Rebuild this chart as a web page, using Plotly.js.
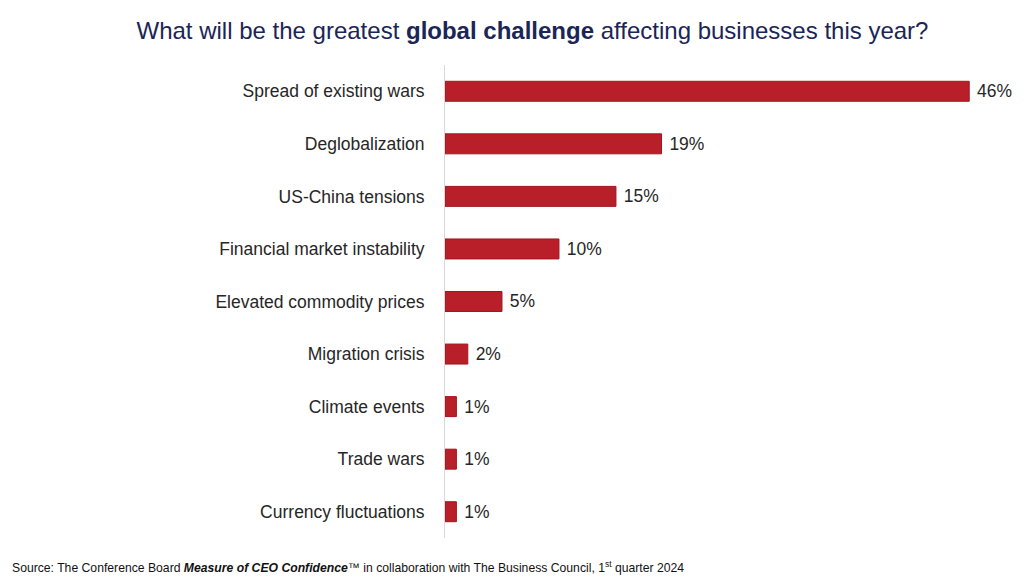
<!DOCTYPE html>
<html><head><meta charset="utf-8">
<script src="https://cdn.plot.ly/plotly-3.0.1.min.js"></script>
<style>html,body{margin:0;padding:0;background:#fff}#chart{width:1024px;height:579px}</style>
</head><body><div id="chart"></div>
<script>
const categories = ["Spread of existing wars","Deglobalization","US-China tensions","Financial market instability","Elevated commodity prices","Migration crisis","Climate events","Trade wars","Currency fluctuations"];
const values = [46,19,15,10,5,2,1,1,1];

const trace = {
  type: 'bar', orientation: 'h',
  y: categories, x: values,
  marker: {color: '#B81F29', line: {color: '#A0161F', width: 1}},
  width: 0.38,
  text: values.map(v => ' ' + v + '%'),
  textposition: 'outside', cliponaxis: false,
  textfont: {family: 'Liberation Sans, Arial, sans-serif', size: 17.5, color: '#262626'},
  hoverinfo: 'skip'
};
const layout = {
  width: 1024, height: 579,
  margin: {l: 445, r: 32, t: 65, b: 41},
  paper_bgcolor: '#fff', plot_bgcolor: '#fff',
  showlegend: false,
  title: {text: 'What will be the greatest <b>global challenge</b> affecting businesses this year?',
    font: {family: 'Liberation Sans, Arial, sans-serif', size: 24, color: '#1B2556'},
    x: 0.52, xanchor: 'center', y: 0.948, yanchor: 'middle'},
  xaxis: {range: [0, 48], visible: false, fixedrange: true},
  yaxis: {autorange: 'reversed', showline: true, linecolor: '#D9D9D9', linewidth: 1,
    showgrid: false, zeroline: false, ticks: '', ticklabelstandoff: 16,
    tickfont: {family: 'Liberation Sans, Arial, sans-serif', size: 17.5, color: '#262626'}},
  annotations: [{
    xref: 'paper', yref: 'paper', x: (10-445)/547, y: -0.061, xanchor: 'left', yanchor: 'middle',
    showarrow: false, align: 'left',
    text: 'Source: The Conference Board <b><i>Measure of CEO Confidence</i></b>™ in collaboration with The Business Council, 1<sup>st</sup> quarter 2024',
    font: {family: 'Liberation Sans Narrow, Arial Narrow, sans-serif', size: 12.2, color: '#111'}
  }]
};
Plotly.newPlot('chart', [trace], layout, {displayModeBar: false, staticPlot: true});
</script></body></html>
